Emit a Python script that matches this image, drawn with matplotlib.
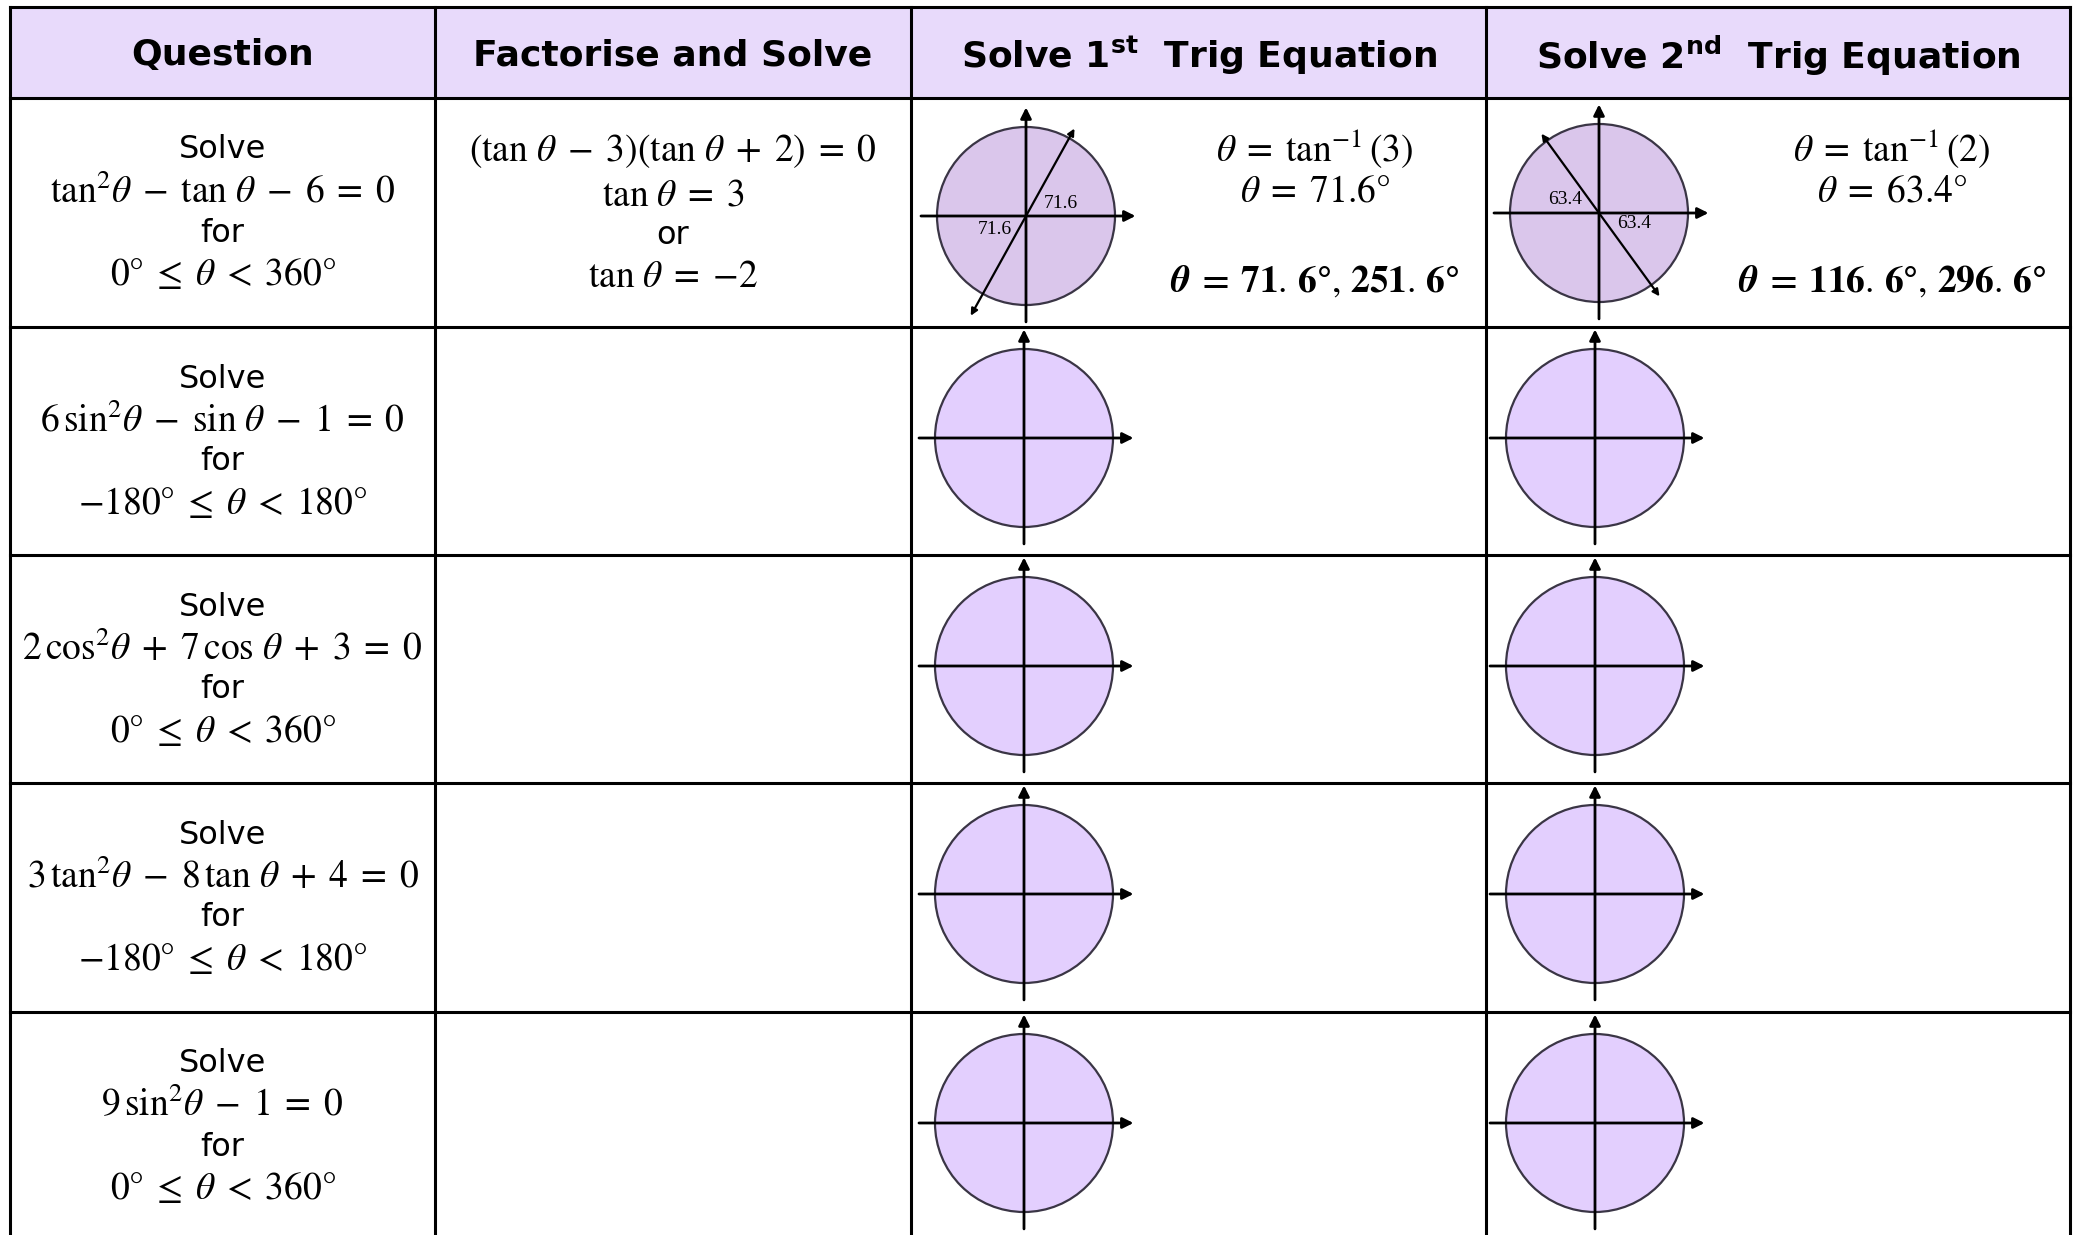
import numpy as np
import matplotlib
matplotlib.use("Agg")
import matplotlib.pyplot as plt
from matplotlib.patches import Rectangle, Circle

plt.rcParams['mathtext.fontset'] = 'stix'
plt.rcParams['font.family'] = ['DejaVu Sans']

# table layout (pixel units of the 2082x1235 sheet)
col_edges = [10, 435, 911, 1486, 2070]
row_edges = [7, 98, 327, 555, 783, 1012, 1240]

headers = ["Question", "Factorise and Solve",
           r"Solve 1$^{\mathbf{st}}$  Trig Equation",
           r"Solve 2$^{\mathbf{nd}}$  Trig Equation"]

equations = [r"$\tan^2\!\theta\;-\;\tan\,\theta\;-\;6\;=\;0$",
             r"$6\,\sin^2\!\theta\;-\;\sin\,\theta\;-\;1\;=\;0$",
             r"$2\,\cos^2\!\theta\;+\;7\,\cos\,\theta\;+\;3\;=\;0$",
             r"$3\,\tan^2\!\theta\;-\;8\,\tan\,\theta\;+\;4\;=\;0$",
             r"$9\,\sin^2\!\theta\;-\;1\;=\;0$"]
ranges = [r"$0°\;\leq\;\theta\;<\;360°$",
          r"$-180°\;\leq\;\theta\;<\;180°$",
          r"$0°\;\leq\;\theta\;<\;360°$",
          r"$-180°\;\leq\;\theta\;<\;180°$",
          r"$0°\;\leq\;\theta\;<\;360°$"]

# worked example (row 1)
factorised = [r"$(\tan\,\theta\;-\;3)(\tan\,\theta\;+\;2)\;=\;0$",
              r"$\tan\,\theta\;=\;3$", "or", r"$\tan\,\theta\;=\;{-}2$"]
first_steps = [r"$\theta\;=\;\tan^{-1}(3)$", r"$\theta\;=\;71.6°$"]
first_answer = r"$\boldsymbol{\theta\;=\;71.\,6°,\,251.\,6°}$"
second_steps = [r"$\theta\;=\;\tan^{-1}(2)$", r"$\theta\;=\;63.4°$"]
second_answer = r"$\boldsymbol{\theta\;=\;116.\,6°,\,296.\,6°}$"
angle_first = 71.6
angle_second = 63.4
# direction of the sketched rays (as drawn on the sheet)
ray_dirs = [61, 126]

header_fill = '#E8DAFB'
circle_fill_done = '#DAC6EB'
circle_fill = '#E3CFFE'
edge_col = '#3A3545'

fig = plt.figure(figsize=(20.82, 12.35), dpi=100)
ax = fig.add_axes([0, 0, 1, 1])
ax.set_xlim(0, 2082)
ax.set_ylim(1235, 0)
ax.axis('off')

# header background
ax.add_patch(Rectangle((col_edges[0], row_edges[0]), col_edges[-1] - col_edges[0],
                       row_edges[1] - row_edges[0], facecolor=header_fill,
                       edgecolor='none', zorder=0))
# grid lines
for x in col_edges:
    ax.plot([x, x], [row_edges[0], 1235], color='black', lw=2.2, zorder=1)
for y in row_edges[:-1]:
    ax.plot([col_edges[0], col_edges[-1]], [y, y], color='black', lw=2.2, zorder=1)

# header text
for i, h in enumerate(headers):
    cx = (col_edges[i] + col_edges[i + 1]) / 2
    ax.text(cx, (row_edges[0] + row_edges[1]) / 2 + 3, h, ha='center', va='center',
            fontsize=26, fontweight='bold', math_fontfamily='dejavusans')

line_offsets = [52, 94, 135, 177]
c1 = (col_edges[0] + col_edges[1]) / 2
c2 = (col_edges[1] + col_edges[2]) / 2
for r in range(5):
    top = row_edges[r + 1]
    lines = ["Solve", equations[r], "for", ranges[r]]
    for off, s in zip(line_offsets, lines):
        ax.text(c1, top + off, s, ha='center', va='center',
                fontsize=23 if s in ("Solve", "for") else 27)

# factorise column, first row
for off, s in zip([53, 97, 138, 179], factorised):
    ax.text(c2, row_edges[1] + off, s, ha='center', va='center',
            fontsize=23 if s == "or" else 27)


def unit_circle(cx, cy, fill, r=89):
    ax.add_patch(Circle((cx, cy), r, facecolor=fill, edgecolor=edge_col, lw=1.6, zorder=2))
    ax.annotate("", xy=(cx + 1.23 * r, cy), xytext=(cx - 1.18 * r, cy),
                arrowprops=dict(arrowstyle='-|>', lw=2, color='black',
                                mutation_scale=16, shrinkA=0, shrinkB=0), zorder=3)
    ax.annotate("", xy=(cx, cy - 1.22 * r), xytext=(cx, cy + 1.19 * r),
                arrowprops=dict(arrowstyle='-|>', lw=2, color='black',
                                mutation_scale=16, shrinkA=0, shrinkB=0), zorder=3)


def ray(cx, cy, deg, up_len, down_len):
    a = np.radians(deg)
    p1 = (cx + up_len * np.cos(a), cy - up_len * np.sin(a))
    p2 = (cx - down_len * np.cos(a), cy + down_len * np.sin(a))
    ax.annotate("", xy=p1, xytext=p2,
                arrowprops=dict(arrowstyle='<|-|>', lw=1.6, color='black',
                                mutation_scale=10, shrinkA=0, shrinkB=0), zorder=3)


lab_kw = dict(ha='center', va='center', fontsize=14, family='Liberation Serif', zorder=4)

# row 1 worked circles
cx3, cy3 = 1026, 216
unit_circle(cx3, cy3, circle_fill_done)
ray(cx3, cy3, ray_dirs[0], 100, 114)
ax.text(cx3 + 35, cy3 - 13, f"{angle_first}", **lab_kw)
ax.text(cx3 - 31, cy3 + 14, f"{angle_first}", **lab_kw)

cx4, cy4 = 1599, 213
unit_circle(cx4, cy4, circle_fill_done)
ray(cx4, cy4, ray_dirs[1], 98, 103)
ax.text(cx4 - 34, cy4 - 13, f"{angle_second}", **lab_kw)
ax.text(cx4 + 35, cy4 + 11, f"{angle_second}", **lab_kw)

for x0, steps, ans in [(1315, first_steps, first_answer), (1892, second_steps, second_answer)]:
    ax.text(x0, 149, steps[0], ha='center', va='center', fontsize=27)
    ax.text(x0, 192, steps[1], ha='center', va='center', fontsize=27)
    ax.text(x0, 282, ans, ha='center', va='center', fontsize=27)

# empty circles for the remaining rows
for r in range(1, 5):
    cy = row_edges[r + 1] + 111
    unit_circle(1024, cy, circle_fill)
    unit_circle(1595, cy, circle_fill)

fig.savefig("out.png", dpi=100)
